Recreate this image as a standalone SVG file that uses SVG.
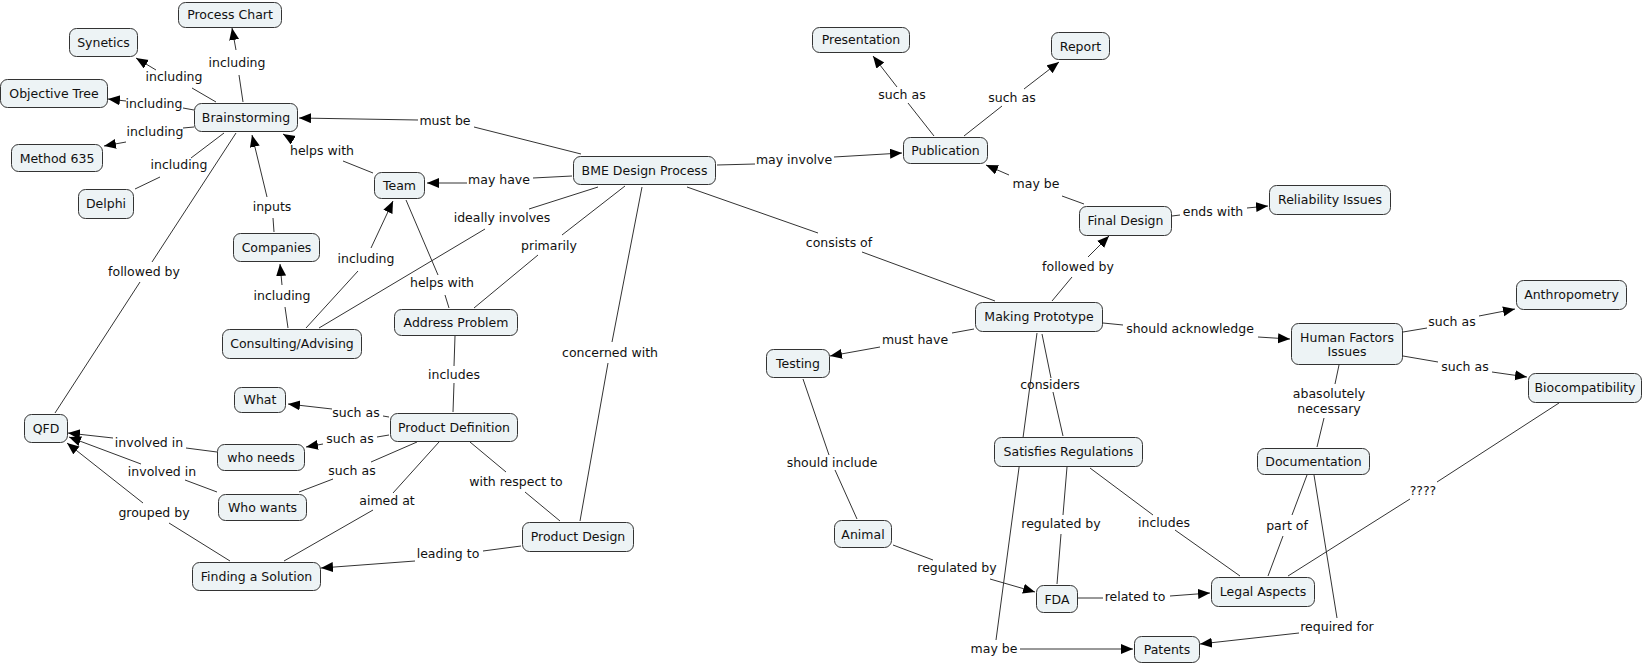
<svg xmlns="http://www.w3.org/2000/svg" width="1643" height="664" viewBox="0 0 1643 664">
<style>
.n rect{fill:#edf3f5;stroke:#333;stroke-width:1}
text{font-family:"DejaVu Sans",Verdana,sans-serif;font-size:12.5px;fill:#111;text-anchor:middle}
.c path{stroke:#333;stroke-width:1;fill:none}
.c path.a{marker-end:url(#arr)}
</style>
<defs>
<marker id="arr" markerUnits="userSpaceOnUse" markerWidth="13" markerHeight="11" refX="12" refY="5" orient="auto"><path d="M0,0 L12,5 L0,10 z" fill="#000"/></marker>
</defs>
<rect width="1643" height="664" fill="#fff"/>
<g id="connectors" class="c">
<!-- Brainstorming -> Process Chart -->
<path d="M243,102 L239,75"/><path class="a" d="M236,50 L232,28"/>
<!-- Brainstorming -> Synetics -->
<path d="M216,102 L192,88"/><path class="a" d="M156,70 L136,58"/>
<!-- Brainstorming -> Objective Tree -->
<path d="M194,110 L183,108"/><path class="a" d="M126,101 L108,99"/>
<!-- Brainstorming -> Method 635 -->
<path d="M194,127 L183,128"/><path class="a" d="M126,142 L104,146"/>
<!-- Brainstorming -> Delphi -->
<path d="M224,133 L191,158"/><path d="M160,177 L135,189"/>
<!-- Brainstorming -> QFD -->
<path d="M236,133 L152,262"/><path d="M140,282 L55,413"/>
<!-- BME -> Brainstorming -->
<path d="M581,154 L474,127"/><path class="a" d="M418,120 L299,118"/>
<!-- Team -> Brainstorming -->
<path d="M373,173 L343,161"/><path class="a" d="M293,140 L283,134"/>
<!-- Companies -> Brainstorming -->
<path d="M274,232 L273,218"/><path class="a" d="M267,197 L252,135"/>
<!-- Consulting -> Companies -->
<path d="M288,328 L285,307"/><path class="a" d="M282,285 L280,264"/>
<!-- Consulting -> Team -->
<path d="M306,328 L358,271"/><path class="a" d="M371,248 L393,201"/>
<!-- BME -> Consulting -->
<path d="M598,187 L529,209"/><path d="M485,229 L319,328"/>
<!-- BME -> Team -->
<path d="M572,176 L533,178"/><path class="a" d="M467,183 L427,183"/>
<!-- Team -> Address Problem -->
<path d="M406,200 L438,275"/><path d="M445,295 L449,308"/>
<!-- BME -> Address Problem -->
<path d="M625,186 L562,235"/><path d="M538,255 L474,308"/>
<!-- BME -> Product Design -->
<path d="M642,187 L612,342"/><path d="M608,363 L580,521"/>
<!-- BME -> Making Prototype -->
<path d="M687,187 L818,233"/><path d="M862,252 L995,301"/>
<!-- BME -> Publication -->
<path d="M717,165 L755,164"/><path class="a" d="M834,157 L902,153"/>
<!-- Publication -> Presentation -->
<path d="M934,136 L908,103"/><path class="a" d="M897,87 L873,56"/>
<!-- Publication -> Report -->
<path d="M964,136 L1002,106"/><path class="a" d="M1024,89 L1059,62"/>
<!-- Final Design -> Publication -->
<path d="M1084,204 L1062,196"/><path class="a" d="M1009,175 L986,165"/>
<!-- Final Design -> Reliability -->
<path d="M1172,216 L1180,215"/><path class="a" d="M1247,208 L1268,206"/>
<!-- Making Prototype -> Final Design -->
<path d="M1052,301 L1072,277"/><path class="a" d="M1088,257 L1109,236"/>
<!-- Making Prototype -> Testing -->
<path d="M974,329 L952,333"/><path class="a" d="M880,347 L830,356"/>
<!-- Making Prototype -> HFI -->
<path d="M1103,323 L1123,325"/><path class="a" d="M1258,337 L1290,339"/>
<!-- Making Prototype -> Satisfies Regulations -->
<path d="M1042,334 L1051,378"/><path d="M1053,392 L1063,436"/>
<!-- Making Prototype -> Patents -->
<path d="M1037,333 L996,640"/><path class="a" d="M1020,649 L1133,649"/>
<!-- Testing -> Animal -->
<path d="M803,379 L829,455"/><path d="M835,470 L857,519"/>
<!-- Animal -> FDA -->
<path d="M893,545 L933,560"/><path class="a" d="M990,579 L1035,592"/>
<!-- Satisfies Regulations -> FDA -->
<path d="M1067,467 L1063,515"/><path d="M1061,534 L1057,584"/>
<!-- Satisfies Regulations -> Legal Aspects -->
<path d="M1090,468 L1153,515"/><path d="M1175,530 L1240,576"/>
<!-- FDA -> Legal Aspects -->
<path d="M1078,598 L1103,598"/><path class="a" d="M1170,596 L1210,593"/>
<!-- HFI -> Anthropometry -->
<path d="M1403,332 L1427,328"/><path class="a" d="M1479,316 L1515,309"/>
<!-- HFI -> Biocompatibility -->
<path d="M1403,356 L1438,362"/><path class="a" d="M1492,372 L1527,377"/>
<!-- HFI -> Documentation -->
<path d="M1339,365 L1335,384"/><path d="M1324,418 L1317,447"/>
<!-- Documentation -> Legal Aspects -->
<path d="M1307,475 L1292,515"/><path d="M1283,536 L1268,576"/>
<!-- Documentation -> Patents -->
<path d="M1314,475 L1337,618"/><path class="a" d="M1299,633 L1200,644"/>
<!-- Biocompatibility -> Legal Aspects -->
<path d="M1559,403 L1437,482"/><path d="M1410,499 L1288,576"/>
<!-- Address Problem -> Product Definition -->
<path d="M455,336 L454,366"/><path d="M454,383 L453,412"/>
<!-- Product Definition -> What -->
<path d="M389,417 L383,416"/><path class="a" d="M332,409 L288,404"/>
<!-- Product Definition -> who needs -->
<path d="M389,435 L377,437"/><path class="a" d="M323,444 L306,447"/>
<!-- Product Definition -> Who wants -->
<path d="M417,442 L371,462"/><path d="M333,479 L299,492"/>
<!-- Product Definition -> Finding a Solution -->
<path d="M439,442 L393,493"/><path d="M373,510 L284,561"/>
<!-- Product Definition -> Product Design -->
<path d="M470,442 L506,472"/><path d="M525,492 L560,521"/>
<!-- Product Design -> Finding a Solution -->
<path d="M521,546 L483,551"/><path class="a" d="M415,561 L321,568"/>
<!-- who needs -> QFD -->
<path d="M217,452 L186,448"/><path class="a" d="M113,438 L68,433"/>
<!-- Who wants -> QFD -->
<path d="M217,492 L185,480"/><path class="a" d="M141,464 L69,437"/>
<!-- Finding a Solution -> QFD -->
<path d="M230,561 L169,523"/><path class="a" d="M143,503 L67,443"/>
</g>
<g id="labels">
<text x="237" y="67">including</text>
<text x="174" y="81">including</text>
<text x="154" y="108">including</text>
<text x="155" y="136">including</text>
<text x="179" y="169">including</text>
<text x="144" y="276">followed by</text>
<text x="445" y="125">must be</text>
<text x="322" y="155">helps with</text>
<text x="272" y="211">inputs</text>
<text x="282" y="300">including</text>
<text x="366" y="263">including</text>
<text x="502" y="222">ideally involves</text>
<text x="499" y="184">may have</text>
<text x="442" y="287">helps with</text>
<text x="549" y="250">primarily</text>
<text x="610" y="357">concerned with</text>
<text x="839" y="247">consists of</text>
<text x="794" y="164">may involve</text>
<text x="902" y="99">such as</text>
<text x="1012" y="102">such as</text>
<text x="1036" y="188">may be</text>
<text x="1213" y="216">ends with</text>
<text x="1078" y="271">followed by</text>
<text x="915" y="344">must have</text>
<text x="1190" y="333">should acknowledge</text>
<text x="1050" y="389">considers</text>
<text x="994" y="653">may be</text>
<text x="832" y="467">should include</text>
<text x="957" y="572">regulated by</text>
<text x="1061" y="528">regulated by</text>
<text x="1164" y="527">includes</text>
<text x="1135" y="601">related to</text>
<text x="1452" y="326">such as</text>
<text x="1465" y="371">such as</text>
<text x="1329" y="398">abasolutely</text>
<text x="1329" y="413">necessary</text>
<text x="1287" y="530">part of</text>
<text x="1337" y="631">required for</text>
<text x="1423" y="495">????</text>
<text x="454" y="379">includes</text>
<text x="356" y="417">such as</text>
<text x="350" y="443">such as</text>
<text x="352" y="475">such as</text>
<text x="387" y="505">aimed at</text>
<text x="516" y="486">with respect to</text>
<text x="448" y="558">leading to</text>
<text x="149" y="447">involved in</text>
<text x="162" y="476">involved in</text>
<text x="154" y="517">grouped by</text>
</g>
<g id="process-chart" class="n"><rect x="178.5" y="2.5" width="103" height="25" rx="7"/><text x="230" y="19">Process Chart</text></g>
<g id="synetics" class="n"><rect x="69.5" y="28.5" width="68" height="28" rx="7"/><text x="103.5" y="46.5">Synetics</text></g>
<g id="objective-tree" class="n"><rect x="0.5" y="79.5" width="107" height="28" rx="7"/><text x="54" y="97.5">Objective Tree</text></g>
<g id="brainstorming" class="n"><rect x="194.5" y="103.5" width="103" height="28" rx="7"/><text x="246" y="121.5">Brainstorming</text></g>
<g id="method-635" class="n"><rect x="11.5" y="144.5" width="91" height="27" rx="7"/><text x="57" y="162.5">Method 635</text></g>
<g id="delphi" class="n"><rect x="78.5" y="189.5" width="55" height="29" rx="7"/><text x="106" y="208">Delphi</text></g>
<g id="team" class="n"><rect x="374.5" y="172.5" width="50" height="26" rx="7"/><text x="399.5" y="190">Team</text></g>
<g id="companies" class="n"><rect x="233.5" y="233.5" width="86" height="28" rx="7"/><text x="276.5" y="251.5">Companies</text></g>
<g id="consulting" class="n"><rect x="222.5" y="329.5" width="139" height="29" rx="7"/><text x="292" y="348">Consulting/Advising</text></g>
<g id="what" class="n"><rect x="234.5" y="387.5" width="51" height="25" rx="7"/><text x="260" y="404">What</text></g>
<g id="qfd" class="n"><rect x="24.5" y="414.5" width="43" height="28" rx="7"/><text x="46" y="432.5">QFD</text></g>
<g id="who-needs" class="n"><rect x="217.5" y="444.5" width="87" height="26" rx="7"/><text x="261" y="462">who needs</text></g>
<g id="who-wants" class="n"><rect x="218.5" y="494.5" width="88" height="26" rx="7"/><text x="262.5" y="512">Who wants</text></g>
<g id="finding-solution" class="n"><rect x="192.5" y="562.5" width="128" height="28" rx="7"/><text x="256.5" y="580.5">Finding a Solution</text></g>
<g id="product-definition" class="n"><rect x="390.5" y="413.5" width="127" height="28" rx="7"/><text x="454" y="431.5">Product Definition</text></g>
<g id="bme" class="n"><rect x="573.5" y="156.5" width="142" height="28" rx="7"/><text x="644.5" y="174.5">BME Design Process</text></g>
<g id="address-problem" class="n"><rect x="394.5" y="309.5" width="123" height="26" rx="7"/><text x="456" y="327">Address Problem</text></g>
<g id="product-design" class="n"><rect x="522.5" y="522.5" width="111" height="29" rx="7"/><text x="578" y="541">Product Design</text></g>
<g id="presentation" class="n"><rect x="812.5" y="27.5" width="97" height="25" rx="7"/><text x="861" y="44">Presentation</text></g>
<g id="report" class="n"><rect x="1051.5" y="32.5" width="58" height="27" rx="7"/><text x="1080.5" y="50.5">Report</text></g>
<g id="publication" class="n"><rect x="903.5" y="137.5" width="84" height="26" rx="7"/><text x="945.5" y="155">Publication</text></g>
<g id="final-design" class="n"><rect x="1079.5" y="206.5" width="92" height="29" rx="7"/><text x="1125.5" y="225">Final Design</text></g>
<g id="reliability" class="n"><rect x="1269.5" y="185.5" width="121" height="29" rx="7"/><text x="1330" y="204">Reliability Issues</text></g>
<g id="making-prototype" class="n"><rect x="975.5" y="302.5" width="127" height="29" rx="7"/><text x="1039" y="321">Making Prototype</text></g>
<g id="testing" class="n"><rect x="766.5" y="349.5" width="63" height="28" rx="7"/><text x="798" y="367.5">Testing</text></g>
<g id="satisfies-regulations" class="n"><rect x="994.5" y="437.5" width="148" height="29" rx="7"/><text x="1068.5" y="456">Satisfies Regulations</text></g>
<g id="animal" class="n"><rect x="834.5" y="520.5" width="57" height="27" rx="7"/><text x="863" y="538.5">Animal</text></g>
<g id="fda" class="n"><rect x="1036.5" y="585.5" width="41" height="27" rx="7"/><text x="1057" y="603.5">FDA</text></g>
<g id="patents" class="n"><rect x="1134.5" y="636.5" width="65" height="26" rx="7"/><text x="1167" y="654">Patents</text></g>
<g id="anthropometry" class="n"><rect x="1516.5" y="280.5" width="110" height="29" rx="7"/><text x="1571.5" y="299">Anthropometry</text></g>
<g id="human-factors" class="n"><rect x="1291.5" y="323.5" width="111" height="41" rx="7"/><text x="1347" y="341.5">Human Factors</text><text x="1347" y="356">Issues</text></g>
<g id="biocompatibility" class="n"><rect x="1528.5" y="373.5" width="113" height="29" rx="7"/><text x="1585" y="392">Biocompatibility</text></g>
<g id="documentation" class="n"><rect x="1257.5" y="448.5" width="112" height="26" rx="7"/><text x="1313.5" y="466">Documentation</text></g>
<g id="legal-aspects" class="n"><rect x="1211.5" y="577.5" width="103" height="29" rx="7"/><text x="1263" y="596">Legal Aspects</text></g>
</svg>
